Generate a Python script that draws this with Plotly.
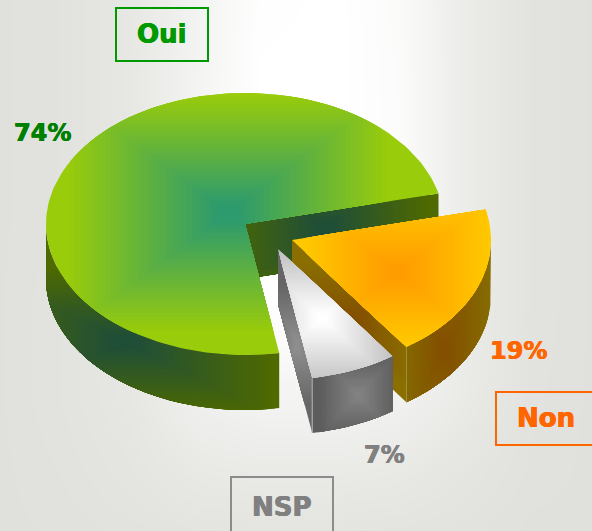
import numpy as np
import plotly.graph_objects as go

# ---- chart values
categories = ["Oui", "Non", "NSP"]
values = [74, 19, 7]
value_labels = ["74%", "19%", "7%"]
start_angle = 13.5

# ---- background whiteness grid
bg_x = [-10, 60, 130, 200, 260, 340, 400, 460, 530, 602]
bg_y = [-10, 100, 200, 300, 400, 470, 541]
bg_t = [
    [0.00, 0.05, 0.22, 0.62, 0.96, 1.00, 0.85, 0.40, 0.08, 0.00],
    [0.00, 0.05, 0.22, 0.65, 1.00, 1.00, 0.88, 0.40, 0.08, 0.00],
    [0.00, 0.05, 0.22, 0.65, 1.00, 1.00, 0.88, 0.40, 0.08, 0.00],
    [0.00, 0.08, 0.22, 0.70, 1.00, 1.00, 0.80, 0.40, 0.08, 0.00],
    [0.00, 0.08, 0.20, 0.50, 0.62, 0.62, 0.55, 0.33, 0.06, 0.00],
    [0.00, 0.05, 0.14, 0.28, 0.32, 0.32, 0.28, 0.16, 0.04, 0.00],
    [0.00, 0.02, 0.05, 0.08, 0.08, 0.08, 0.07, 0.05, 0.00, 0.00],
]

# ---- geometry and style
RX, RY, DEPTH = 199, 131, 55
apex = {"Oui": (245, 224), "Non": (292, 240), "NSP": (278, 249)}
top_style = {
    "Oui": dict(c=(228, 213), hw=162, hh=120, inner="#2e9b6e", outer="#99cc0a"),
    "Non": dict(c=(397, 272), hw=92, hh=72, inner="#ff9d00", outer="#ffc800"),
    "NSP": dict(c=(322, 318), hw=72, hh=66, inner="#ffffff", outer="#c2c2c2"),
}
rim_style = {
    "Oui": dict(c=(125, 342), hw=150, hh=75, inner="#204f38", outer="#4f6a00"),
    "Non": dict(c=(445, 350), hw=44, hh=90, inner="#845000", outer="#866c00"),
    "NSP": dict(c=(358, 395), hw=40, hh=42, inner="#828282", outer="#5c5c5c"),
}
cut_style = {
    "Oui": dict(c=(325, 228), hw=105, hh=70, inner="#204f38", outer="#4f6a00"),
    "Non": dict(c=(352, 322), hw=60, hh=60, inner="#845000", outer="#8a6f00"),
    "NSP": dict(c=(297, 345), hw=30, hh=60, inner="#8e8e8e", outer="#666666"),
}
fold_cols = {"Non": "#a38f3a", "NSP": "#b4b4b4"}
LEVELS = 36
PLATEAU = 0.08


def hex_rgb(h):
    return np.array([int(h[i:i + 2], 16) for i in (1, 3, 5)], float)


def clip_half(poly, axis, bound, keep_less):
    out = []
    n = len(poly)
    for i in range(n):
        a, b = poly[i], poly[(i + 1) % n]
        ina = a[axis] <= bound if keep_less else a[axis] >= bound
        inb = b[axis] <= bound if keep_less else b[axis] >= bound
        if ina:
            out.append(a)
        if ina != inb:
            s = (bound - a[axis]) / (b[axis] - a[axis])
            out.append((a[0] + s * (b[0] - a[0]), a[1] + s * (b[1] - a[1])))
    return out


def clip_rect(poly, x0, x1, y0, y1):
    for axis, bound, less in ((0, x0, False), (0, x1, True), (1, y0, False), (1, y1, True)):
        if not poly:
            return poly
        poly = clip_half(poly, axis, bound, less)
    return poly


fig = go.Figure()
fig.add_trace(go.Heatmap(
    x=bg_x, y=bg_y, z=bg_t, zmin=0, zmax=1, zsmooth="best", showscale=False, hoverinfo="skip",
    colorscale=[[0, "#e0e1dc"], [1, "#ffffff"]],
))


def add_poly(poly, color):
    xs = [p[0] for p in poly] + [poly[0][0]]
    ys = [p[1] for p in poly] + [poly[0][1]]
    fig.add_trace(go.Scatter(x=xs, y=ys, mode="lines", fill="toself", fillcolor=color,
                             line=dict(width=0, color=color), hoverinfo="skip", showlegend=False))


def add_gradient(poly, c, hw, hh, inner, outer):
    ci, co = hex_rgb(inner), hex_rgb(outer)
    add_poly(poly, outer)
    for k in range(LEVELS, 0, -1):
        t = k / LEVELS
        rect = clip_rect(poly, c[0] - hw * t, c[0] + hw * t, c[1] - hh * t, c[1] + hh * t)
        if len(rect) < 3:
            continue
        frac = max(0.0, (t - PLATEAU) / (1 - PLATEAU))
        col = ci + (co - ci) * frac
        add_poly(rect, "rgb(%d,%d,%d)" % tuple(col))


def arc(cx, cy, a0, a1, dy=0):
    n = max(2, int(abs(a1 - a0) / 1.5))
    return [(cx + RX * np.cos(np.radians(a)), cy + dy - RY * np.sin(np.radians(a)))
            for a in np.linspace(a0, a1, n)]


# slice angular extents: Oui runs counter-clockwise from the start angle, Non and NSP clockwise
total = sum(values)
oui0 = start_angle
oui1 = oui0 + values[0] / total * 360
non0 = oui0 - values[1] / total * 360
nsp0 = non0 - values[2] / total * 360
angles = {"Oui": (oui0, oui1), "Non": (non0, oui0), "NSP": (nsp0, non0)}

for name in categories:
    cx, cy = apex[name]
    a0, a1 = angles[name]
    # straight cut face that looks towards the viewer
    ca = (cx + RX * np.cos(np.radians(a0)), cy - RY * np.sin(np.radians(a0)))
    add_gradient([(cx, cy), ca, (ca[0], ca[1] + DEPTH), (cx, cy + DEPTH)], **cut_style[name])
    # curved rim: only the front half of the ellipse shows
    lo, hi = (180, a1) if name == "Oui" else (a0, min(a1, 0))
    rim = arc(cx, cy, lo, hi) + arc(cx, cy, hi, lo, DEPTH)
    add_gradient(rim, **rim_style[name])
    # thin light fold where the cut face meets the rim
    if name in fold_cols:
        fig.add_trace(go.Scatter(x=[ca[0], ca[0]], y=[ca[1], ca[1] + DEPTH], mode="lines",
                                 line=dict(width=1, color=fold_cols[name]),
                                 hoverinfo="skip", showlegend=False))
    # top face
    add_gradient([(cx, cy)] + arc(cx, cy, a0, a1), **top_style[name])

# ---- labels and boxes
box_lines = {"Oui": "#009900", "Non": "#ff6600", "NSP": "#8c8c8c"}
box_rects = {"Oui": (116, 8, 208, 61), "Non": (496, 392, 604, 445), "NSP": (231, 477, 333, 540)}
name_pos = {"Oui": (162, 34), "Non": (546, 418), "NSP": (282, 507)}
value_pos = {"Oui": (42, 133), "Non": (518, 351), "NSP": (384, 455)}
value_cols = {"Oui": "#008000", "Non": "#ff6600", "NSP": "#808080"}
FONT = "DejaVu Sans"
for name, label in zip(categories, value_labels):
    x0, y0, x1, y1 = box_rects[name]
    fig.add_shape(type="rect", x0=x0, y0=y0, x1=x1, y1=y1, line=dict(color=box_lines[name], width=2))
    nc = box_lines[name] if name != "NSP" else "#808080"
    fig.add_annotation(x=name_pos[name][0], y=name_pos[name][1], text="<b>%s</b>" % name, showarrow=False,
                       font=dict(family=FONT, size=26, color=nc, shadow="0.4px 0 0 %s, -0.4px 0 0 %s" % (nc, nc)))
    vc = value_cols[name]
    fig.add_annotation(x=value_pos[name][0], y=value_pos[name][1], text="<b>%s</b>" % label, showarrow=False,
                       font=dict(family=FONT, size=24, color=vc, shadow="0.4px 0 0 %s, -0.4px 0 0 %s" % (vc, vc)))

fig.update_layout(
    width=592, height=531, margin=dict(l=0, r=0, t=0, b=0),
    paper_bgcolor="#e0e1dc", plot_bgcolor="#e0e1dc", showlegend=False,
    xaxis=dict(range=[0, 592], visible=False, fixedrange=True),
    yaxis=dict(range=[531, 0], visible=False, fixedrange=True),
)
fig.write_html("out.html", config={"displayModeBar": False},
               post_script="document.body.style.margin='0';document.body.style.overflow='hidden';")
